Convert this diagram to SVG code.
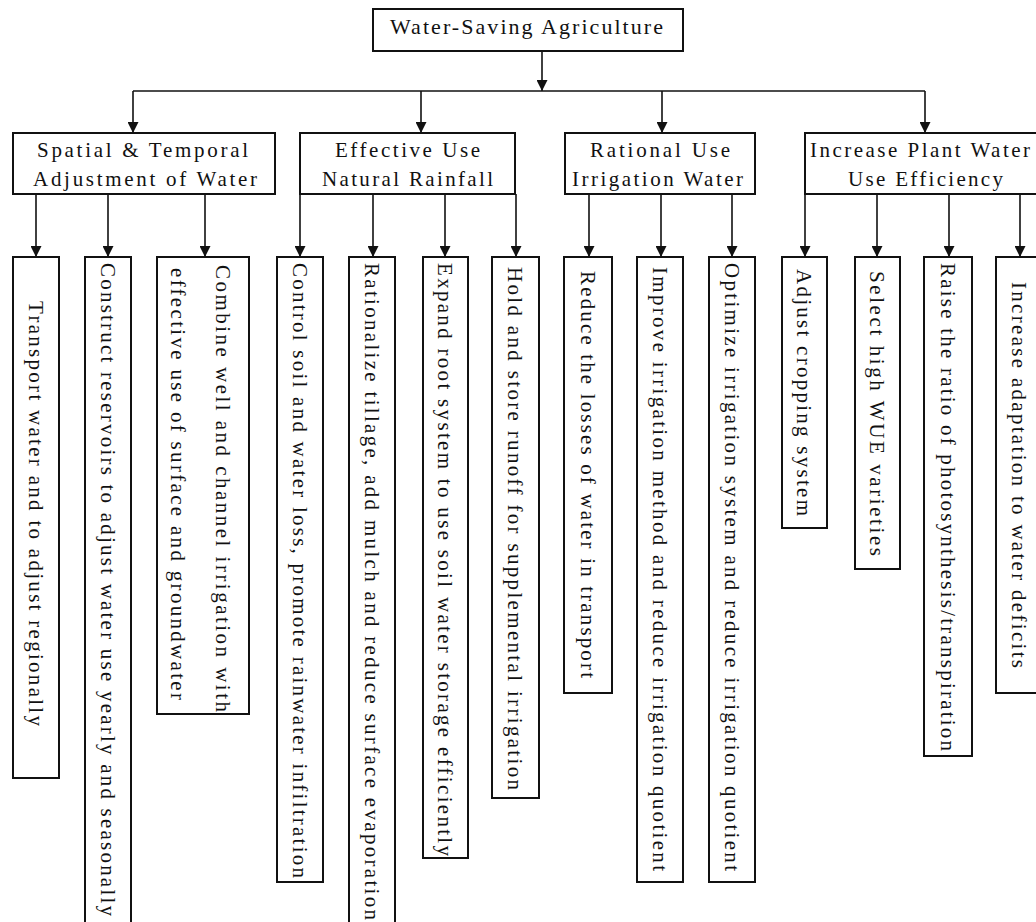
<svg xmlns="http://www.w3.org/2000/svg" width="1036" height="922" viewBox="0 0 1036 922">
<defs>
<style>
.box{fill:#fff;stroke:#111;stroke-width:2}
.t{font-family:"Liberation Serif","Times New Roman",serif;font-size:21px;fill:#111}
.r{font-family:"Liberation Serif","Times New Roman",serif;font-size:22px;fill:#111}
.v{font-family:"Liberation Serif","Times New Roman",serif;font-size:21px;fill:#111}
.c{fill:none;stroke:#111;stroke-width:1.6}
</style>
<marker id="ah" markerUnits="userSpaceOnUse" markerWidth="11" markerHeight="11" refX="10" refY="5" orient="auto" viewBox="0 0 10 10">
<path d="M0,0 L10,5 L0,10 z" fill="#111"/>
</marker>
</defs>
<rect width="1036" height="922" fill="#fff"/>
<g id="connectors">
<path class="c" d="M542,51 V91" marker-end="url(#ah)"/>
<path class="c" d="M133,91 H925"/>
<path class="c" d="M133,91 V133" marker-end="url(#ah)"/>
<path class="c" d="M421,91 V133" marker-end="url(#ah)"/>
<path class="c" d="M662,91 V133" marker-end="url(#ah)"/>
<path class="c" d="M925,91 V133" marker-end="url(#ah)"/>
<path class="c" d="M36,194 V257" marker-end="url(#ah)"/>
<path class="c" d="M108,194 V257" marker-end="url(#ah)"/>
<path class="c" d="M205,194 V257" marker-end="url(#ah)"/>
<path class="c" d="M300,194 V257" marker-end="url(#ah)"/>
<path class="c" d="M373,194 V257" marker-end="url(#ah)"/>
<path class="c" d="M445,194 V257" marker-end="url(#ah)"/>
<path class="c" d="M516,194 V257" marker-end="url(#ah)"/>
<path class="c" d="M589,194 V257" marker-end="url(#ah)"/>
<path class="c" d="M661,194 V257" marker-end="url(#ah)"/>
<path class="c" d="M732,194 V257" marker-end="url(#ah)"/>
<path class="c" d="M805,194 V257" marker-end="url(#ah)"/>
<path class="c" d="M877,194 V257" marker-end="url(#ah)"/>
<path class="c" d="M949,194 V257" marker-end="url(#ah)"/>
<path class="c" d="M1020,194 V257" marker-end="url(#ah)"/>
</g>
<g id="root">
<rect class="box" x="373" y="9" width="310" height="42"/>
<text class="r" x="390" y="34" textLength="273" lengthAdjust="spacing">Water-Saving Agriculture</text>
</g>
<g id="cat1">
<rect class="box" x="13" y="133" width="262" height="61"/>
<text class="t" x="37" y="157" textLength="211" lengthAdjust="spacing">Spatial &amp; Temporal</text>
<text class="t" x="33" y="186" textLength="224" lengthAdjust="spacing">Adjustment of Water</text>
</g>
<g id="cat2">
<rect class="box" x="300" y="133" width="215" height="61"/>
<text class="t" x="335" y="157" textLength="145" lengthAdjust="spacing">Effective Use</text>
<text class="t" x="322" y="186" textLength="171" lengthAdjust="spacing">Natural Rainfall</text>
</g>
<g id="cat3">
<rect class="box" x="565" y="133" width="190" height="61"/>
<text class="t" x="590" y="157" textLength="140" lengthAdjust="spacing">Rational Use</text>
<text class="t" x="572" y="186" textLength="171" lengthAdjust="spacing">Irrigation Water</text>
</g>
<g id="cat4">
<rect class="box" x="805" y="133" width="240" height="61"/>
<text class="t" x="810" y="157" textLength="220" lengthAdjust="spacing">Increase Plant Water</text>
<text class="t" x="848" y="186" textLength="155" lengthAdjust="spacing">Use Efficiency</text>
</g>
<g id="leaf1">
<rect class="box" x="13" y="257" width="46" height="521"/>
<text class="v" transform="translate(29,301) rotate(90)" textLength="425" lengthAdjust="spacing">Transport water and to adjust regionally</text>
</g>
<g id="leaf2">
<rect class="box" x="85" y="257" width="46" height="680"/>
<text class="v" transform="translate(101,263) rotate(90)" textLength="653" lengthAdjust="spacing">Construct reservoirs to adjust water use yearly and seasonally</text>
</g>
<g id="leaf3">
<rect class="box" x="157" y="257" width="92" height="457"/>
<text class="v" transform="translate(216,265) rotate(90)" textLength="447" lengthAdjust="spacing">Combine well and channel irrigation with</text>
<text class="v" transform="translate(171,268) rotate(90)" textLength="432" lengthAdjust="spacing">effective use of surface and groundwater</text>
</g>
<g id="leaf4">
<rect class="box" x="277" y="257" width="46" height="625"/>
<text class="v" transform="translate(293,263) rotate(90)" textLength="615" lengthAdjust="spacing">Control soil and water loss, promote rainwater infiltration</text>
</g>
<g id="leaf5">
<rect class="box" x="349" y="257" width="46" height="680"/>
<text class="v" transform="translate(365,263) rotate(90)" textLength="657" lengthAdjust="spacing">Rationalize tillage, add mulch and reduce surface evaporation</text>
</g>
<g id="leaf6">
<rect class="box" x="423" y="257" width="45" height="601"/>
<text class="v" transform="translate(438,263) rotate(90)" textLength="593" lengthAdjust="spacing">Expand root system to use soil water storage efficiently</text>
</g>
<g id="leaf7">
<rect class="box" x="492" y="257" width="47" height="541"/>
<text class="v" transform="translate(508,267) rotate(90)" textLength="523" lengthAdjust="spacing">Hold and store runoff for supplemental irrigation</text>
</g>
<g id="leaf8">
<rect class="box" x="564" y="257" width="48" height="436"/>
<text class="v" transform="translate(581,271) rotate(90)" textLength="407" lengthAdjust="spacing">Reduce the losses of water in transport</text>
</g>
<g id="leaf9">
<rect class="box" x="637" y="257" width="46" height="625"/>
<text class="v" transform="translate(653,267) rotate(90)" textLength="604" lengthAdjust="spacing">Improve irrigation method and reduce irrigation quotient</text>
</g>
<g id="leaf10">
<rect class="box" x="709" y="257" width="46" height="625"/>
<text class="v" transform="translate(725,263) rotate(90)" textLength="608" lengthAdjust="spacing">Optimize irrigation system and reduce irrigation quotient</text>
</g>
<g id="leaf11">
<rect class="box" x="782" y="257" width="45" height="271"/>
<text class="v" transform="translate(797,269) rotate(90)" textLength="247" lengthAdjust="spacing">Adjust cropping system</text>
</g>
<g id="leaf12">
<rect class="box" x="855" y="257" width="45" height="312"/>
<text class="v" transform="translate(870,271) rotate(90)" textLength="285" lengthAdjust="spacing">Select high WUE varieties</text>
</g>
<g id="leaf13">
<rect class="box" x="924" y="257" width="48" height="499"/>
<text class="v" transform="translate(941,263) rotate(90)" textLength="488" lengthAdjust="spacing">Raise the ratio of photosynthesis/transpiration</text>
</g>
<g id="leaf14">
<rect class="box" x="996" y="257" width="46" height="436"/>
<text class="v" transform="translate(1012,282) rotate(90)" textLength="386" lengthAdjust="spacing">Increase adaptation to water deficits</text>
</g>
</svg>
